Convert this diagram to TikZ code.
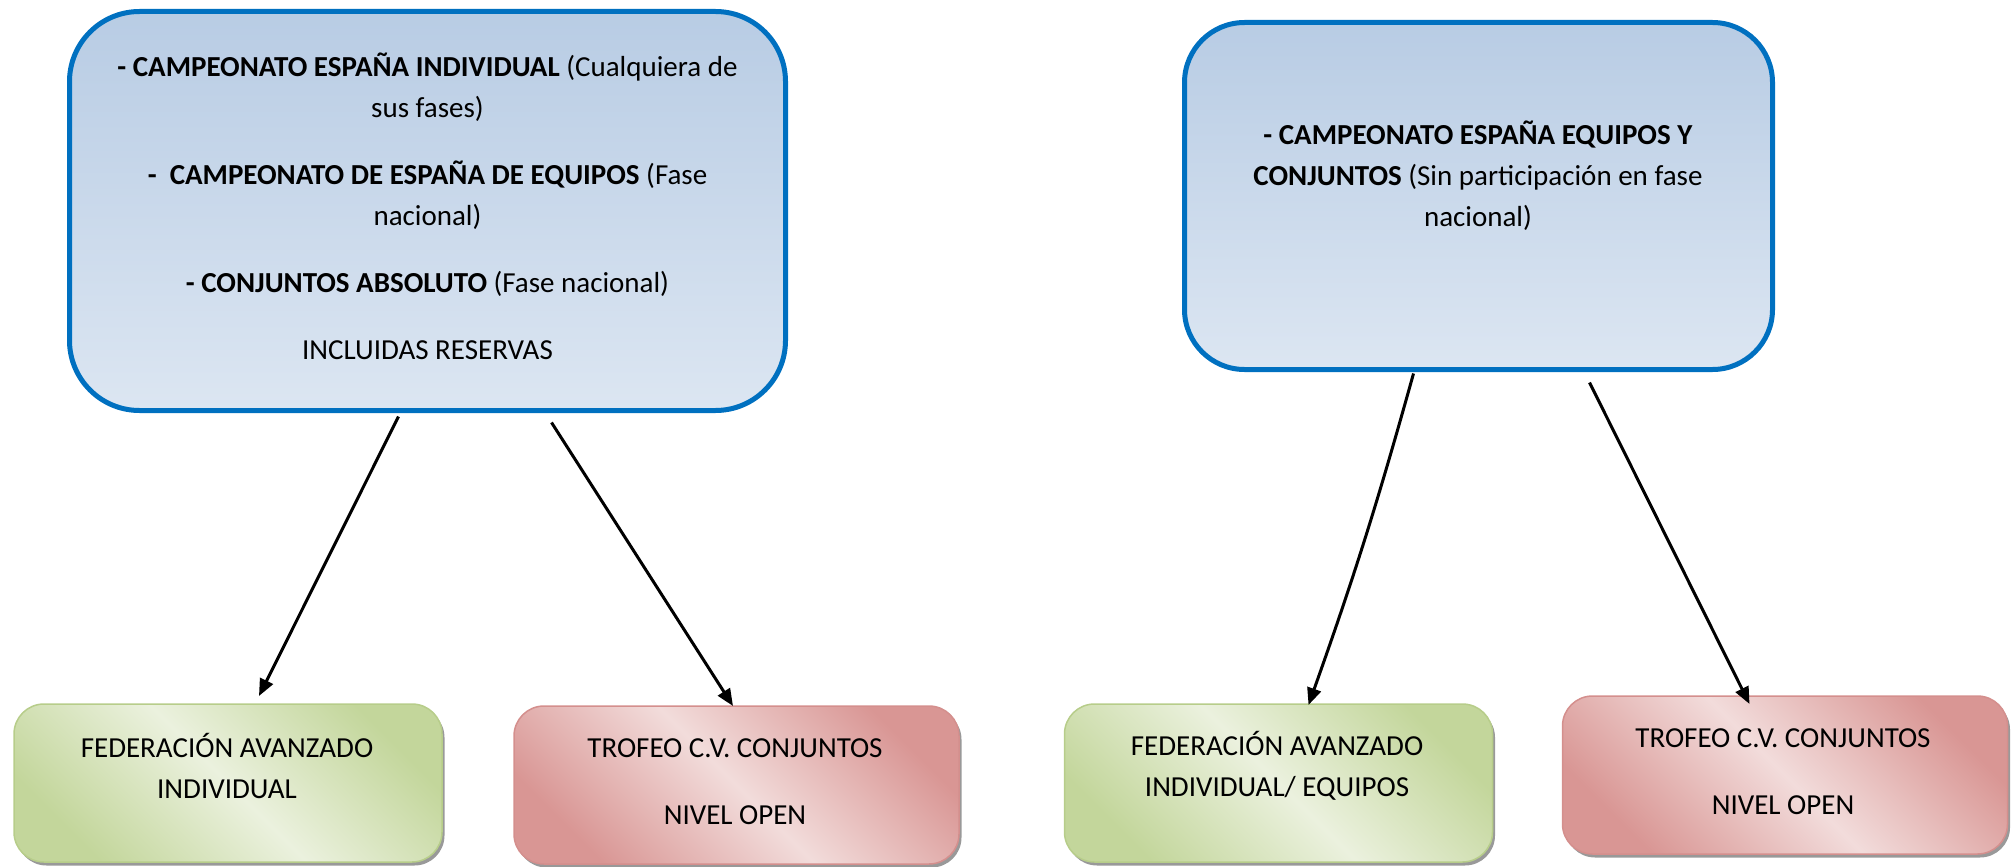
\documentclass[tikz,border=0pt]{standalone}
\usepackage{fontspec}
\setmainfont{Carlito}
\usetikzlibrary{arrows.meta,shadows,calc}
\definecolor{blueTop}{RGB}{184,204,228}
\definecolor{blueBot}{RGB}{220,230,242}
\definecolor{blueLine}{RGB}{0,112,192}
\definecolor{greenDark}{RGB}{195,214,155}
\definecolor{greenLight}{RGB}{235,241,222}
\definecolor{greenLine}{RGB}{183,205,138}
\definecolor{redDark}{RGB}{217,150,148}
\definecolor{redLight}{RGB}{242,220,219}
\definecolor{redLine}{RGB}{212,143,141}
\tikzset{
  bigbox/.style={draw=blueLine, line width=5pt, top color=blueTop, bottom color=blueBot,
    inner sep=0pt, outer sep=0pt},
  smallbox/.style={line width=1.5pt, inner sep=0pt, outer sep=0pt, rounded corners=30pt,
    minimum width=428pt, minimum height=158pt,
    drop shadow={shadow xshift=2.5pt, shadow yshift=-3.5pt, fill=black!40, opacity=1}},
  greenbox/.style={smallbox, draw=greenLine, left color=greenDark, right color=greenDark,
    middle color=greenLight, shading angle=-45},
  redbox/.style={smallbox, draw=redLine, left color=redDark, right color=redDark,
    middle color=redLight, shading angle=-45},
  txt/.style={align=center, inner sep=0pt, font=\fontsize{29}{41}\selectfont},
  arr/.style={line width=3pt, -{Triangle[length=17pt,width=14pt]}}
}
\begin{document}
\begin{tikzpicture}[x=1pt, y=-1pt]
\useasboundingbox (0,0) rectangle (2013,867);
% top boxes
\node[bigbox, rounded corners=70pt, minimum width=716pt, minimum height=399pt] (T1) at (427.5,211) {};
\node[bigbox, rounded corners=60pt, minimum width=588pt, minimum height=347pt] (T2) at (1478.5,196) {};
% bottom boxes
\node[greenbox] (G1) at (228,783) {};
\node[redbox, minimum width=445pt] (R1) at (736.5,785) {};
\node[greenbox] (G2) at (1278.5,783) {};
\node[redbox, minimum width=445pt] (R2) at (1785,775) {};
% texts
\node[txt] (T1t) at (427.5,206.5) {\textbf{- CAMPEONATO ESPAÑA INDIVIDUAL} (Cualquiera de\\ sus fases)\\[26pt]
\textbf{-~~CAMPEONATO DE ESPAÑA DE EQUIPOS} (Fase\\ nacional)\\[26pt]
\textbf{- CONJUNTOS ABSOLUTO} (Fase nacional)\\[26pt]
INCLUIDAS RESERVAS};
\node[txt] (T2t) at (1478,176) {\textbf{- CAMPEONATO ESPAÑA EQUIPOS Y}\\ \textbf{CONJUNTOS} (Sin participación en fase\\ nacional)};
\node[txt] (G1t) at (227,766) {FEDERACIÓN AVANZADO\\ INDIVIDUAL};
\node[txt] (R1t) at (735,781.5) {TROFEO C.V. CONJUNTOS\\[26pt] NIVEL OPEN};
\node[txt] (G2t) at (1277,765.5) {FEDERACIÓN AVANZADO\\ INDIVIDUAL/ EQUIPOS};
\node[txt] (R2t) at (1783,771.5) {TROFEO C.V. CONJUNTOS\\[26pt] NIVEL OPEN};
% connectors
\draw[arr] ($(T1.south west)+(329,6)$) -- ($(G1.north west)+(245,-8)$);
\draw[arr] ($(T1.south west)+(482,12)$) -- ($(R1.north west)+(219,0)$);
\draw[arr] ($(T2.south west)+(229,4)$) to[bend left=2] ($(G2.north west)+(244,1)$);
\draw[arr] ($(T2.south west)+(405,13)$) -- ($(R2.north west)+(187,8)$);
\end{tikzpicture}
\end{document}
